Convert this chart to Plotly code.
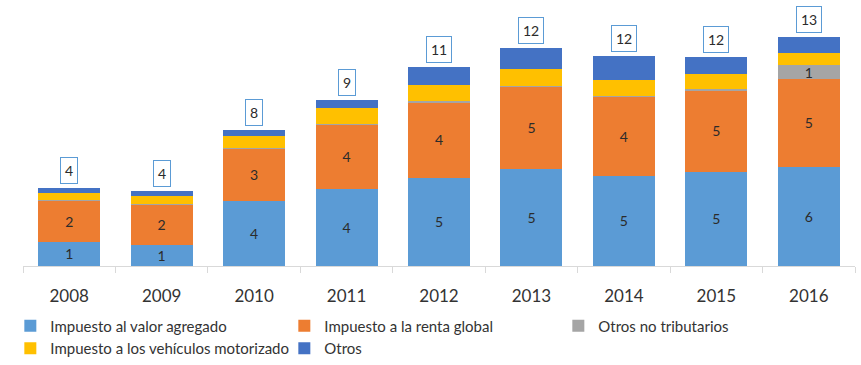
import plotly.graph_objects as go

years = ["2008", "2009", "2010", "2011", "2012", "2013", "2014", "2015", "2016"]
iva = [1.37, 1.19, 3.67, 4.35, 4.99, 5.48, 5.10, 5.33, 5.61]
renta = [2.32, 2.28, 2.95, 3.62, 4.26, 4.65, 4.48, 4.61, 4.95]
no_trib = [0.05, 0.05, 0.05, 0.07, 0.06, 0.04, 0.04, 0.06, 0.79]
vehiculos = [0.40, 0.45, 0.70, 0.90, 0.92, 0.96, 0.90, 0.85, 0.69]
otros = [0.28, 0.27, 0.32, 0.43, 1.02, 1.19, 1.36, 0.96, 0.90]

series = [
    ("Impuesto al valor agregado", iva, "#5B9BD5", True),
    ("Impuesto a la renta global", renta, "#ED7D31", True),
    ("Otros no tributarios", no_trib, "#A5A5A5", True),
    ("Impuesto a los vehículos motorizado", vehiculos, "#FFC000", False),
    ("Otros", otros, "#4472C4", False),
]

FONT = "Lato"
fig = go.Figure()
for name, vals, color, show_lbl in series:
    txt = [f"{v:.0f}" if (show_lbl and v >= 0.5) else "" for v in vals]
    fig.add_trace(go.Bar(
        name=name, x=years, y=vals, marker=dict(color=color, line=dict(width=0)),
        text=txt, textposition="inside", insidetextanchor="middle", textangle=0,
        constraintext="none", textfont=dict(family=FONT, size=14, color="#2B2B2B"),
    ))

totals = [a + b + c + d + e for a, b, c, d, e in zip(iva, renta, no_trib, vehiculos, otros)]
for i, t in enumerate(totals):
    fig.add_annotation(
        x=i, y=t, text=f"{t:.0f}", showarrow=False, yanchor="bottom", yshift=4,
        font=dict(family=FONT, size=14, color="#2B2B2B"),
        bordercolor="#5B9BD5", borderwidth=1, borderpad=4, bgcolor="white",
    )

fig.update_layout(
    width=861, height=365, barmode="stack", bargap=0.33,
    margin=dict(l=23, r=6, t=5, b=99, autoexpand=False),
    plot_bgcolor="white", paper_bgcolor="white",
    font=dict(family=FONT, color="#333333"),
    xaxis=dict(type="category", categoryorder="array", categoryarray=years,
               range=[-0.5, len(years) - 0.5], autorange=False,
               showline=True, linecolor="#D9D9D9", linewidth=1, ticks="outside",
               tickson="boundaries", ticklen=6, tickcolor="#D9D9D9", ticklabelstandoff=15,
               tickfont=dict(family=FONT, size=17, color="#333333"), showgrid=False),
    yaxis=dict(range=[0, 261 / 17.7], autorange=False, visible=False, showgrid=False),
    legend=dict(orientation="h", xref="container", yref="container",
                x=0.012, xanchor="left", y=0.152, yanchor="top",
                entrywidth=229, entrywidthmode="pixels",
                font=dict(family=FONT, size=15, color="#333333"), traceorder="normal"),
    showlegend=True,
)
fig.write_html("out.html", config={"displayModeBar": False},
               post_script="document.body.style.margin='0';document.body.style.padding='0';")
